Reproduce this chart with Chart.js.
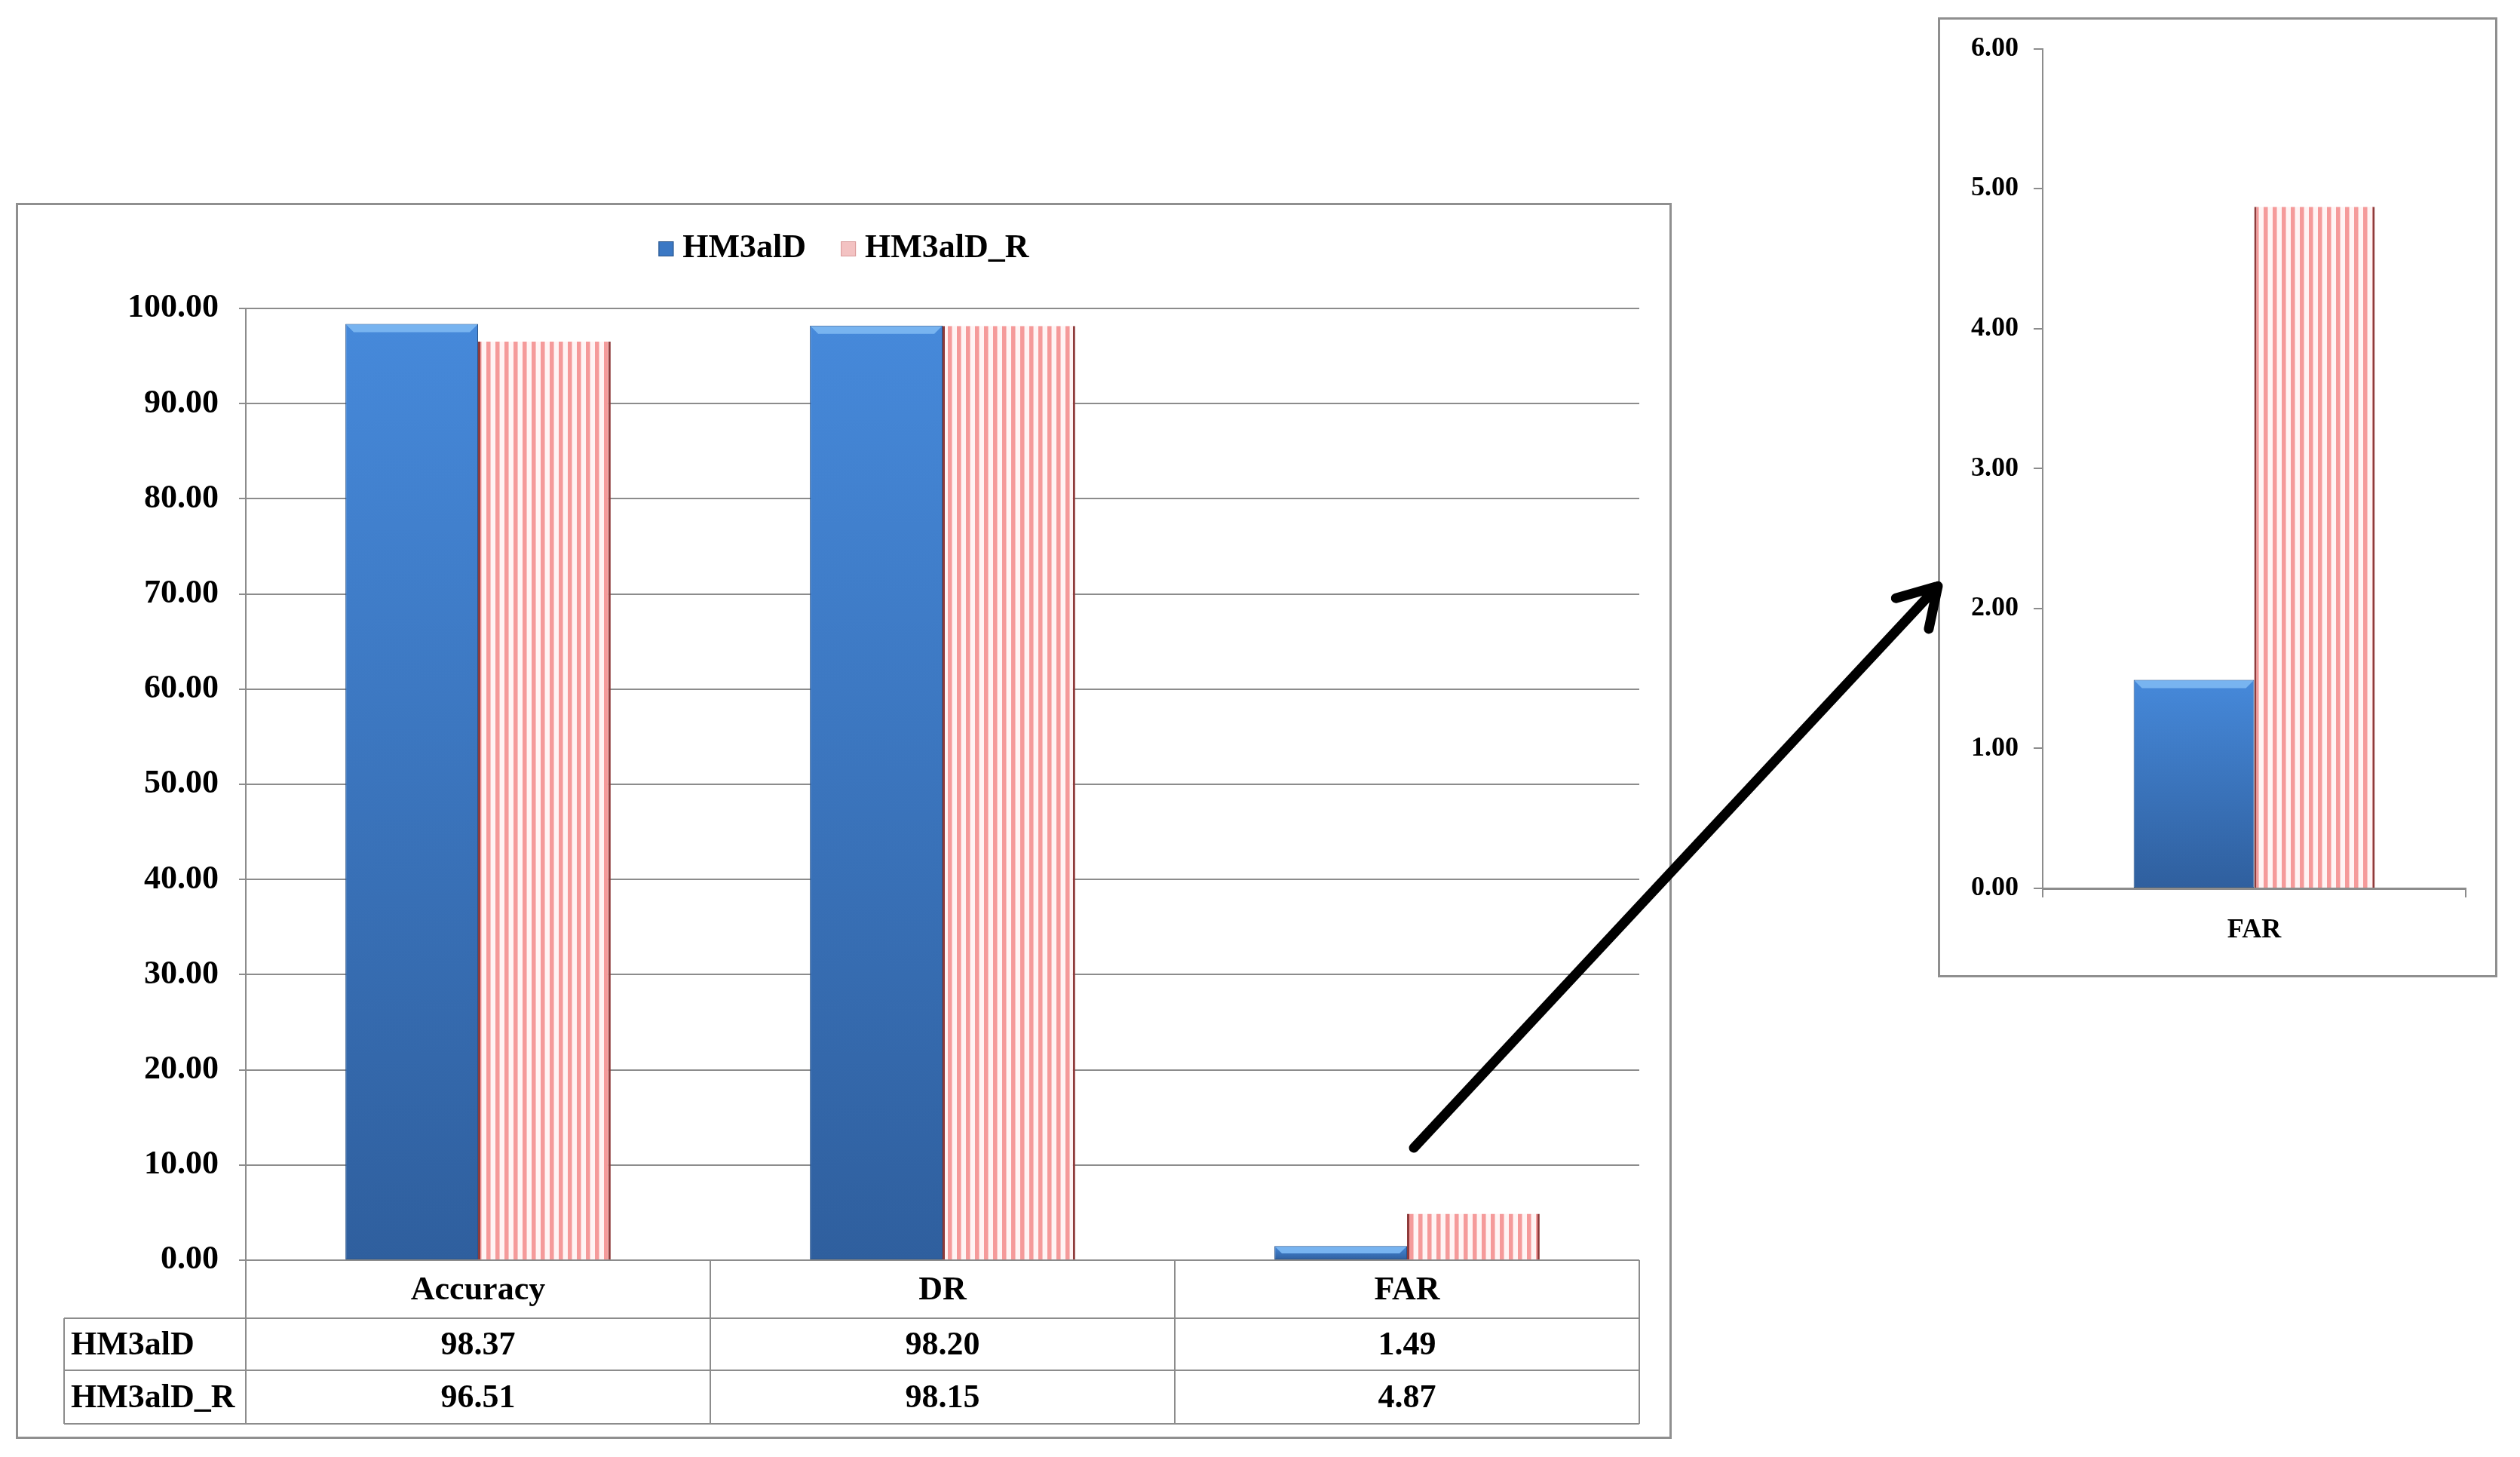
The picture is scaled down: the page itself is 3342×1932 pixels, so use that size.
<!DOCTYPE html>
<html>
<head>
<meta charset="utf-8">
<title>HM3alD vs HM3alD_R</title>
<script src="https://cdn.jsdelivr.net/npm/chart.js@4.4.0/dist/chart.umd.min.js"></script>
<style>
  body { margin: 0; background: #fff; width: 3342px; height: 1932px; position: relative; overflow: hidden; }
  canvas { position: absolute; }
  #chartUtama { left: 21px; top: 269px; }
  #chartFar { left: 2570px; top: 23px; }
  #panah { left: 0; top: 0; pointer-events: none; }
</style>
</head>
<body>
<canvas id="chartUtama" width="2196" height="1639"></canvas>
<canvas id="chartFar" width="742" height="1273"></canvas>
<canvas id="panah" width="3342" height="1932"></canvas>
<script>
// data
const categories = ["Accuracy", "DR", "FAR"];
const seriesNames = ["HM3alD", "HM3alD_R"];
const hm3alD = [98.37, 98.20, 1.49];
const hm3alD_R = [96.51, 98.15, 4.87];

// axis ranges
const mainTicks = { min: 0, max: 100, step: 10 };
const farTicks = { min: 0, max: 6, step: 1 };

// zoomed panel shows only FAR
const farCategories = ["FAR"];
const farHm3alD = [hm3alD[2]];
const farHm3alD_R = [hm3alD_R[2]];

// arrow goes from just above FAR bars to the zoomed panel
const arrowFromValue = 11.8;
const arrowToValue = 2.16;

const fontFamily = "'Liberation Serif', 'Times New Roman', serif";
const gridColor = "#8c8c8c";
Chart.defaults.font.family = fontFamily;
Chart.defaults.font.weight = "bold";
Chart.defaults.color = "#000";

// striped pink fill like the Excel pattern
function buatPola() {
  const c = document.createElement("canvas");
  c.width = 12; c.height = 12;
  const g = c.getContext("2d");
  g.fillStyle = "#fff4f4";
  g.fillRect(0, 0, 12, 12);
  g.fillStyle = "#f59a9a";
  g.fillRect(0, 0, 5, 12);
  g.fillStyle = "#f8c4c4";
  g.fillRect(5, 0, 1, 12);
  return g.createPattern(c, "repeat");
}
const polaPink = buatPola();

// blue gradient per bar
function warnaBiru(context) {
  const chart = context.chart;
  if (!chart.chartArea || !context.parsed) return "#3b78c4";
  const y = chart.scales.y;
  const top = y.getPixelForValue(context.parsed.y);
  const bottom = y.getPixelForValue(0);
  const grad = chart.ctx.createLinearGradient(0, top, 0, Math.max(bottom, top + 1));
  grad.addColorStop(0, "#4689da");
  grad.addColorStop(1, "#2f5f9e");
  return grad;
}

function buatDataset(data) {
  return [
    {
      label: seriesNames[0],
      data: data[0],
      backgroundColor: warnaBiru,
      borderColor: "#2a5488",
      borderWidth: 1,
      borderSkipped: false
    },
    {
      label: seriesNames[1],
      data: data[1],
      backgroundColor: polaPink,
      borderColor: "#8e3b3b",
      borderWidth: { left: 3, right: 3, top: 0, bottom: 0 },
      borderSkipped: false
    }
  ];
}

// box border and bevel on blue bars
const pluginKotak = {
  id: "kotak",
  beforeDraw(chart) {
    const c = chart.ctx;
    c.save();
    c.fillStyle = "#fff";
    c.fillRect(0, 0, chart.width, chart.height);
    c.strokeStyle = "#8f8f8f";
    c.lineWidth = 3;
    c.strokeRect(1.5, 1.5, chart.width - 3, chart.height - 3);
    c.restore();
  },
  afterDatasetsDraw(chart) {
    const c = chart.ctx;
    const meta = chart.getDatasetMeta(0);
    c.save();
    meta.data.forEach(bar => {
      const h = Math.min(10, (bar.base - bar.y) / 2);
      const x0 = bar.x - bar.width / 2 + 1;
      const x1 = bar.x + bar.width / 2 - 1;
      c.fillStyle = "#78b4f0";
      c.beginPath();
      c.moveTo(x0, bar.y + 1);
      c.lineTo(x1, bar.y + 1);
      c.lineTo(x1 - h, bar.y + 1 + h);
      c.lineTo(x0 + h, bar.y + 1 + h);
      c.closePath();
      c.fill();
    });
    c.restore();
  }
};

// legend and data table for the main chart
const pluginTabel = {
  id: "tabel",
  afterDraw(chart) {
    const c = chart.ctx;
    const area = chart.chartArea;
    c.save();
    c.font = "bold 44px " + fontFamily;
    c.textBaseline = "middle";
    c.fillStyle = "#000";

    // legend
    const kotak = 20;
    const w1 = c.measureText(seriesNames[0]).width;
    const w2 = c.measureText(seriesNames[1]).width;
    const total = kotak + 12 + w1 + 46 + kotak + 12 + w2;
    let lx = chart.width / 2 - total / 2;
    const ly = 61;
    c.fillStyle = "#3b78c4";
    c.fillRect(lx, ly - kotak / 2, kotak, kotak);
    c.strokeStyle = "#2a5488";
    c.lineWidth = 1;
    c.strokeRect(lx + 0.5, ly - kotak / 2 + 0.5, kotak - 1, kotak - 1);
    c.fillStyle = "#000";
    c.textAlign = "left";
    c.fillText(seriesNames[0], lx + kotak + 12, ly);
    lx += kotak + 12 + w1 + 46;
    c.fillStyle = "#f3c2c2";
    c.fillRect(lx, ly - kotak / 2, kotak, kotak);
    c.strokeStyle = "#d99a9a";
    c.strokeRect(lx + 0.5, ly - kotak / 2 + 0.5, kotak - 1, kotak - 1);
    c.fillStyle = "#000";
    c.fillText(seriesNames[1], lx + kotak + 12, ly);

    // table
    const step = (area.right - area.left) / categories.length;
    const rows = [area.bottom, area.bottom + 77, area.bottom + 146, area.bottom + 217];
    const tableLeft = 64;
    c.strokeStyle = gridColor;
    c.lineWidth = 2;
    c.beginPath();
    for (let i = 1; i < rows.length; i++) {
      c.moveTo(tableLeft, rows[i]);
      c.lineTo(area.right, rows[i]);
    }
    c.moveTo(tableLeft, rows[1]);
    c.lineTo(tableLeft, rows[3]);
    for (let i = 0; i <= categories.length; i++) {
      const x = area.left + step * i;
      c.moveTo(x, rows[0]);
      c.lineTo(x, rows[3]);
    }
    c.stroke();

    c.textAlign = "center";
    categories.forEach((cat, i) => {
      const x = area.left + step * (i + 0.5);
      c.fillText(cat, x, (rows[0] + rows[1]) / 2 + 2);
      c.fillText(hm3alD[i].toFixed(2), x, (rows[1] + rows[2]) / 2 + 2);
      c.fillText(hm3alD_R[i].toFixed(2), x, (rows[2] + rows[3]) / 2 + 2);
    });
    c.textAlign = "left";
    c.fillText(seriesNames[0], tableLeft + 9, (rows[1] + rows[2]) / 2 + 2);
    c.fillText(seriesNames[1], tableLeft + 9, (rows[2] + rows[3]) / 2 + 2);
    c.restore();
  }
};

const chartUtama = new Chart(document.getElementById("chartUtama"), {
  type: "bar",
  data: { labels: categories, datasets: buatDataset([hm3alD, hm3alD_R]) },
  options: {
    responsive: false,
    animation: false,
    layout: { padding: { left: 0, top: 140, right: 43, bottom: 237 } },
    datasets: { bar: { categoryPercentage: 0.571, barPercentage: 1 } },
    plugins: { legend: { display: false }, tooltip: { enabled: false } },
    scales: {
      x: {
        ticks: { display: false },
        grid: { display: false },
        border: { display: false },
        afterFit: s => { s.height = 0; }
      },
      y: {
        min: mainTicks.min,
        max: mainTicks.max,
        ticks: {
          stepSize: mainTicks.step,
          padding: 27,
          font: { size: 44, weight: "bold" },
          callback: v => v.toFixed(2)
        },
        grid: { color: gridColor, lineWidth: 2, tickLength: 9 },
        border: { display: true, color: gridColor, width: 2 },
        afterFit: s => { s.width = 305; }
      }
    }
  },
  plugins: [pluginKotak, pluginTabel]
});

const chartFar = new Chart(document.getElementById("chartFar"), {
  type: "bar",
  data: { labels: farCategories, datasets: buatDataset([farHm3alD, farHm3alD_R]) },
  options: {
    responsive: false,
    animation: false,
    layout: { padding: { left: 0, top: 41, right: 42, bottom: 0 } },
    datasets: { bar: { categoryPercentage: 0.57, barPercentage: 1 } },
    plugins: { legend: { display: false }, tooltip: { enabled: false } },
    scales: {
      x: {
        ticks: { padding: 22, font: { size: 36, weight: "bold" } },
        grid: { drawOnChartArea: false, color: gridColor, lineWidth: 2, tickLength: 12 },
        border: { display: true, color: gridColor, width: 3 },
        afterFit: s => { s.height = 118; }
      },
      y: {
        min: farTicks.min,
        max: farTicks.max,
        ticks: {
          stepSize: farTicks.step,
          padding: 20,
          font: { size: 36, weight: "bold" },
          callback: v => v.toFixed(2)
        },
        grid: { drawOnChartArea: false, color: gridColor, lineWidth: 2, tickLength: 12 },
        border: { display: true, color: gridColor, width: 2 },
        afterFit: s => { s.width = 139; }
      }
    }
  },
  plugins: [pluginKotak]
});

// arrow between the two charts, anchored to their scales
function gambarPanah() {
  const c = document.getElementById("panah").getContext("2d");
  const a = document.getElementById("chartUtama");
  const b = document.getElementById("chartFar");
  const x1 = a.offsetLeft + chartUtama.scales.x.getPixelForValue(2) + 9;
  const y1 = a.offsetTop + chartUtama.scales.y.getPixelForValue(arrowFromValue);
  const x2 = b.offsetLeft;
  const y2 = b.offsetTop + chartFar.scales.y.getPixelForValue(arrowToValue);
  const back = Math.atan2(y1 - y2, x1 - x2);
  const len = 58;
  const spread = 31 * Math.PI / 180;
  c.strokeStyle = "#000";
  c.lineWidth = 13;
  c.lineCap = "round";
  c.lineJoin = "round";
  c.beginPath();
  c.moveTo(x1, y1);
  c.lineTo(x2, y2);
  c.moveTo(x2 + len * Math.cos(back - spread), y2 + len * Math.sin(back - spread));
  c.lineTo(x2, y2);
  c.lineTo(x2 + len * Math.cos(back + spread), y2 + len * Math.sin(back + spread));
  c.stroke();
}
gambarPanah();
</script>
</body>
</html>
